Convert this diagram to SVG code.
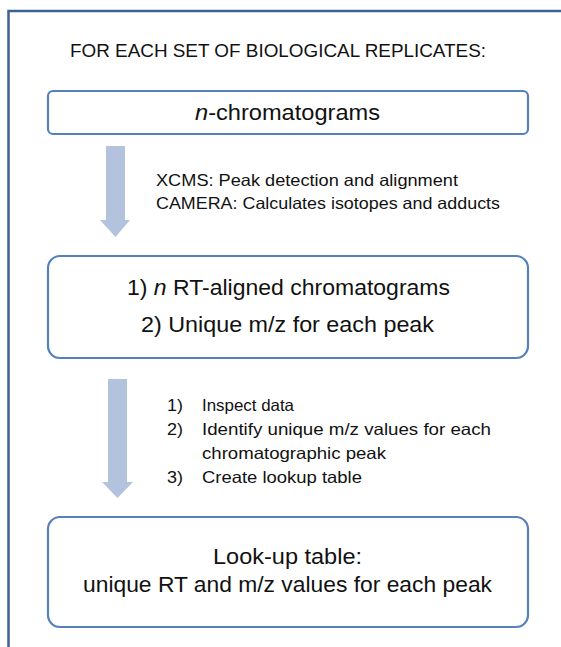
<svg xmlns="http://www.w3.org/2000/svg" width="561" height="647" viewBox="0 0 561 647">
<style>
text{font-family:"Liberation Sans","Noto Sans",sans-serif;fill:#111}
.box{fill:#fff;stroke:#5580BA;stroke-width:2.2}
.arr{fill:#B3C3DE}
.big{font-size:22px}
.mid{font-size:18px}
.sm{font-size:16.5px}
</style>
<rect width="561" height="647" fill="#fff"/>
<rect x="8.5" y="11" width="570" height="660" fill="none" stroke="#3E6291" stroke-width="2.5"/>
<text class="mid" x="70" y="57" textLength="416" lengthAdjust="spacingAndGlyphs">FOR EACH SET OF BIOLOGICAL REPLICATES:</text>
<g id="connectors">
<polygon class="arr" points="106,146 125,146 125,220 130,220 115.5,237 100,220 106,220"/>
<polygon class="arr" points="108,379 127,379 127,482 133,482 117.5,498 102,482 108,482"/>
</g>
<g id="n1">
<rect class="box" x="48" y="91" width="480" height="43" rx="5"/>
<text class="big" x="195" y="120" textLength="185" lengthAdjust="spacingAndGlyphs"><tspan font-style="italic">n</tspan>-chromatograms</text>
</g>
<g id="lbl1">
<text class="sm" x="156" y="186" textLength="302" lengthAdjust="spacingAndGlyphs">XCMS: Peak detection and alignment</text>
<text class="sm" x="156" y="209" textLength="344" lengthAdjust="spacingAndGlyphs">CAMERA: Calculates isotopes and adducts</text>
</g>
<g id="n2">
<rect class="box" x="48" y="256" width="480" height="102" rx="12"/>
<text class="big" x="127" y="295" textLength="323" lengthAdjust="spacingAndGlyphs">1) <tspan font-style="italic">n</tspan> RT-aligned chromatograms</text>
<text class="big" x="141" y="332" textLength="293" lengthAdjust="spacingAndGlyphs">2) Unique m/z for each peak</text>
</g>
<g id="lbl2">
<text class="sm" x="167" y="411" textLength="16" lengthAdjust="spacingAndGlyphs">1)</text>
<text class="sm" x="202" y="411" textLength="92" lengthAdjust="spacingAndGlyphs">Inspect data</text>
<text class="sm" x="167" y="435" textLength="16" lengthAdjust="spacingAndGlyphs">2)</text>
<text class="sm" x="202" y="435" textLength="289" lengthAdjust="spacingAndGlyphs">Identify unique m/z values for each</text>
<text class="sm" x="202" y="459" textLength="184" lengthAdjust="spacingAndGlyphs">chromatographic peak</text>
<text class="sm" x="167" y="483" textLength="16" lengthAdjust="spacingAndGlyphs">3)</text>
<text class="sm" x="202" y="483" textLength="160" lengthAdjust="spacingAndGlyphs">Create lookup table</text>
</g>
<g id="n3">
<rect class="box" x="48" y="517" width="480" height="110" rx="12"/>
<text class="big" x="213" y="564" textLength="149" lengthAdjust="spacingAndGlyphs">Look-up table:</text>
<text class="big" x="83" y="592" textLength="409" lengthAdjust="spacingAndGlyphs">unique RT and m/z values for each peak</text>
</g>
</svg>
